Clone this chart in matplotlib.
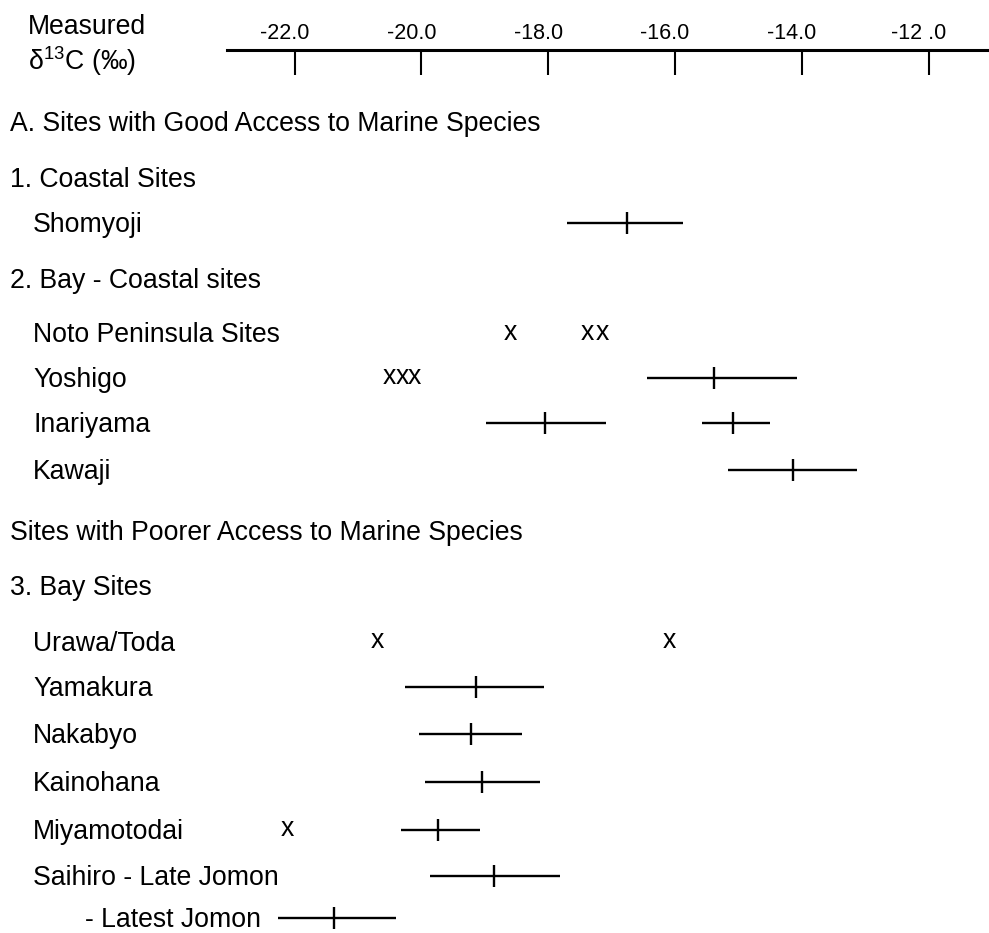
import matplotlib
matplotlib.use('Agg')
import matplotlib.pyplot as plt
import matplotlib.transforms as mtransforms
import numpy as np

# measured delta 13C ranges: low end, mean tick, high end
range_site = ['Shomyoji', 'Yoshigo', 'Inariyama', 'Inariyama', 'Kawaji',
              'Yamakura', 'Nakabyo', 'Kainohana', 'Miyamotodai',
              'Saihiro - Late Jomon', '- Latest Jomon']
range_low = [-17.70, -16.44, -18.98, -15.57, -15.16,
             -20.25, -20.04, -19.94, -20.32, -19.86, -22.26]
range_mean = [-16.76, -15.38, -18.05, -15.08, -14.14,
              -19.14, -19.21, -19.04, -19.74, -18.86, -21.38]
range_high = [-15.87, -14.07, -17.09, -14.50, -13.13,
              -18.06, -18.41, -18.13, -19.08, -17.82, -20.40]

# single measurements, drawn as x
single_site = ['Noto Peninsula Sites'] * 3 + ['Yoshigo'] * 3 + ['Urawa/Toda'] * 2 + ['Miyamotodai']
single_value = [-18.59, -17.38, -17.14, -20.50, -20.30, -20.11, -20.70, -16.08, -22.12]

tick_values = [-22.0, -20.0, -18.0, -16.0, -14.0, -12.0]
tick_labels = ['-22.0', '-20.0', '-18.0', '-16.0', '-14.0', '-12 .0']

W, H = 989, 933

# left column: (text, x px, row centre y px)
rows = [
    ('A. Sites with Good Access to Marine Species', 10, 122),
    ('1. Coastal Sites', 10, 178),
    ('Shomyoji', 33, 223),
    ('2. Bay - Coastal sites', 10, 279),
    ('Noto Peninsula Sites', 33, 333),
    ('Yoshigo', 33, 378),
    ('Inariyama', 33, 423),
    ('Kawaji', 33, 470),
    ('Sites with Poorer Access to Marine Species', 10, 531),
    ('3. Bay Sites', 10, 586),
    ('Urawa/Toda', 33, 642),
    ('Yamakura', 33, 687),
    ('Nakabyo', 33, 734),
    ('Kainohana', 33, 782),
    ('Miyamotodai', 33, 830),
    ('Saihiro - Late Jomon', 33, 876),
    ('- Latest Jomon', 85, 918),
]
row_y = {r[0]: r[2] for r in rows}

plt.rcParams['font.family'] = ['Liberation Sans', 'DejaVu Sans']
plt.rcParams['mathtext.fontset'] = 'custom'
plt.rcParams['mathtext.rm'] = 'Liberation Sans'
plt.rcParams['mathtext.it'] = 'Liberation Sans:italic'
FS = 19.2


def main():
    fig = plt.figure(figsize=(W / 100, H / 100), dpi=100)
    fig.patch.set_facecolor('white')

    # data axes cover the whole figure, y in pixel rows
    px_per_unit = 63.4
    x0 = 294.5  # pixel of -22.0
    xmin = -22 - x0 / px_per_unit
    xmax = -22 + (W - x0) / px_per_unit

    # scale bar along the top
    left = 227
    sc = fig.add_axes([left / W, 0, 1 - left / W, 1 - 50 / H])
    sc.set_xlim(-22 - (x0 - left) / px_per_unit, xmax)
    sc.set_ylim(0, 1)
    sc.patch.set_alpha(0)
    for name in ['left', 'right', 'bottom']:
        sc.spines[name].set_visible(False)
    sc.spines['top'].set_linewidth(2.2)
    sc.xaxis.tick_top()
    sc.set_xticks(tick_values, tick_labels)
    sc.set_yticks([])
    sc.tick_params(axis='x', direction='in', length=18, width=1.5, pad=4, labelsize=15.5)
    shift = mtransforms.ScaledTranslation(-10 / 100, 0, fig.dpi_scale_trans)
    for lab in sc.get_xticklabels():
        lab.set_transform(lab.get_transform() + shift)

    ax = fig.add_axes([0, 0, 1, 1])
    ax.set_xlim(xmin, xmax)
    ax.set_ylim(H, 0)
    ax.axis('off')
    ax.patch.set_alpha(0)

    # header
    fig.text(28 / W, 1 - 34 / H, 'Measured', fontsize=FS, va='baseline')
    fig.text(28 / W, 1 - 70 / H, 'δ$^{13}$C (‰)', fontsize=FS, va='baseline')

    # row labels
    for text, x, y in rows:
        fig.text(x / W, 1 - (y + 9) / H, text, fontsize=FS, va='baseline')

    # ranges with mean tick
    lo = np.array(range_low)
    mid = np.array(range_mean)
    hi = np.array(range_high)
    ys = np.array([row_y[s] for s in range_site])
    ax.errorbar(mid, ys, xerr=[mid - lo, hi - mid], fmt='none',
                ecolor='black', elinewidth=1.7, capsize=0)
    ax.plot(mid, ys, linestyle='none', marker='|', markersize=16,
            markeredgewidth=1.7, color='black')

    # single values
    for site, v in zip(single_site, single_value):
        ax.text(v, row_y[site] + 6.5, 'x', fontsize=FS, ha='center', va='baseline')

    fig.savefig('out.png', dpi=100, facecolor='white')


if __name__ == '__main__':
    main()
